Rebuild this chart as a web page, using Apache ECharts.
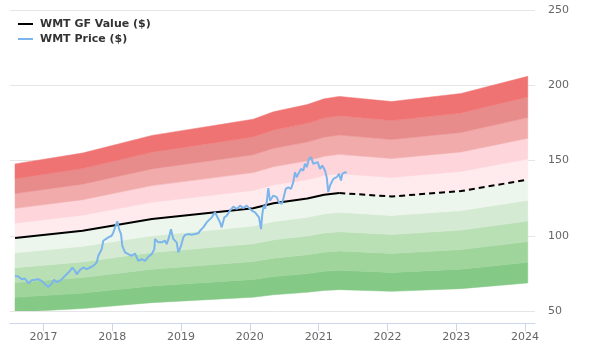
<!DOCTYPE html>
<html><head><meta charset="utf-8">
<script src="https://cdn.jsdelivr.net/npm/echarts@6/dist/echarts.min.js"></script>
<style>html,body{margin:0;padding:0;background:#fff}#c{width:600px;height:360px}</style>
</head><body><div id="c"></div>
<script>
// GF Value (decimal year, $)
const gfYears  = [2016.586, 2017.568, 2018.576, 2020.048, 2020.344, 2020.835, 2021.08, 2021.30, 2022.06, 2023.07, 2024.04];
const gfValues = [98.5, 103.3, 111.1, 118.3, 121.6, 124.8, 127.3, 128.4, 126.1, 129.7, 137.3];
const gfHistoricalCount = 8; // points up to the last price date are drawn solid

// WMT price (decimal year, $)
const priceYears = [2016.586,2016.634,2016.683,2016.731,2016.779,2016.828,2016.876,2016.924,2016.974,2017.022,
  2017.070,2017.119,2017.153,2017.192,2017.240,2017.288,2017.337,2017.385,2017.419,2017.458,
  2017.483,2017.531,2017.579,2017.628,2017.676,2017.724,2017.749,2017.773,2017.797,2017.807,
  2017.846,2017.869,2017.894,2017.942,2017.991,2018.015,2018.050,2018.073,2018.098,2018.127,
  2018.146,2018.185,2018.233,2018.282,2018.330,2018.378,2018.428,2018.476,2018.523,2018.573,
  2018.611,2018.621,2018.669,2018.718,2018.766,2018.791,2018.824,2018.853,2018.887,2018.912,
  2018.936,2018.960,2018.999,2019.032,2019.057,2019.105,2019.154,2019.202,2019.250,2019.275,
  2019.323,2019.348,2019.372,2019.396,2019.445,2019.493,2019.518,2019.541,2019.566,2019.591,
  2019.628,2019.663,2019.711,2019.759,2019.809,2019.857,2019.904,2019.954,2019.977,2020.027,
  2020.075,2020.099,2020.133,2020.162,2020.181,2020.201,2020.220,2020.245,2020.268,2020.293,
  2020.307,2020.341,2020.390,2020.423,2020.463,2020.486,2020.521,2020.559,2020.598,2020.631,
  2020.656,2020.681,2020.704,2020.743,2020.777,2020.801,2020.826,2020.859,2020.889,2020.922,
  2020.947,2020.986,2021.019,2021.053,2021.092,2021.117,2021.140,2021.165,2021.190,2021.213,
  2021.262,2021.296,2021.325,2021.344,2021.383,2021.408];
const prices = [73.3,72.9,71.1,71.6,68.4,70.4,70.7,71.1,70.0,67.8,
  66.0,68.2,70.7,69.3,70.0,72.2,74.4,76.7,78.9,76.7,
  74.4,77.3,78.9,77.8,78.9,80.0,78.9,82.2,86.7,87.8,
  91.1,96.7,97.8,98.9,100.0,102.2,106.7,109.6,104.4,101.1,
  93.3,88.9,87.8,86.7,88.2,83.3,84.4,83.3,86.0,87.8,
  91.1,97.8,95.6,95.6,96.7,94.4,98.9,104.4,97.8,98.9,
  95.6,88.9,93.3,98.9,100.5,101.1,100.7,101.1,101.6,103.3,
  105.6,104.4,108.9,109.6,112.2,115.6,113.3,112.2,108.9,105.6,
  112.2,113.3,116.7,119.3,117.8,120.0,118.4,120.0,120.7,116.7,
  115.6,116.7,112.2,104.4,114.4,120.0,118.0,122.2,131.6,123.3,
  124.4,126.7,125.6,122.2,121.1,124.4,131.1,132.2,131.1,135.6,
  142.2,138.9,141.1,144.4,143.3,147.8,145.6,151.1,152.2,147.8,
  146.7,148.9,144.4,146.7,143.3,138.9,129.0,133.3,134.4,137.8,
  138.9,141.1,136.7,141.1,142.2,141.8];

const yearTicks = [2017, 2018, 2019, 2020, 2021, 2022, 2023, 2024];
const bandBase = 0.5;
const bandStep = 0.1;
const bandColors = ['#85c986', '#9fd49b', '#b9dfb5', '#d5ead3', '#edf6ec',
                    '#ffebee', '#fdd5da', '#f1abab', '#e88b8b', '#f07373'];

const FONT = 'DejaVu Sans';
const series = [];
series.push({
  type: 'custom', silent: true, clip: true, z: 1,
  data: bandColors.map(() => [gfYears[0], gfValues[0]]),
  renderItem: (params, api) => {
    const k = params.dataIndex;
    const lo = bandBase + k * bandStep, hi = lo + bandStep;
    const top = gfYears.map((y, i) => api.coord([y, gfValues[i] * hi]));
    const bot = gfYears.map((y, i) => api.coord([y, gfValues[i] * lo])).reverse();
    return {
      type: 'polygon', silent: true,
      shape: { points: top.concat(bot) },
      style: { fill: bandColors[k], stroke: bandColors[k], lineWidth: 0.5 }
    };
  }
});
series.push({
  name: 'WMT GF Value ($)', type: 'line', symbol: 'none', color: '#000',
  lineStyle: { width: 2, color: '#000' },
  data: gfYears.slice(0, gfHistoricalCount).map((y, i) => [y, gfValues[i]]),
  z: 3
});
series.push({
  name: 'WMT GF Value ($)', type: 'line', symbol: 'none', color: '#000',
  lineStyle: { width: 2, color: '#000', type: [6, 4] },
  data: gfYears.slice(gfHistoricalCount - 1).map((y, i) => [y, gfValues[i + gfHistoricalCount - 1]]),
  z: 3
});
series.push({
  name: 'WMT Price ($)', type: 'line', symbol: 'none', color: '#7cb5ec',
  lineStyle: { width: 2, color: '#7cb5ec' },
  data: priceYears.map((y, i) => [y, prices[i]]),
  z: 4
});

const chart = echarts.init(document.getElementById('c'), null, { renderer: 'canvas' });
chart.setOption({
  animation: false,
  textStyle: { fontFamily: FONT },
  grid: { left: 10, right: 65, top: 10, bottom: 49, containLabel: false },
  legend: {
    orient: 'vertical', left: 18, top: 17, padding: 0, icon: 'rect', itemWidth: 15, itemHeight: 2,
    itemGap: 1,
    data: ['WMT GF Value ($)', 'WMT Price ($)'],
    textStyle: { fontFamily: FONT, fontSize: 11, fontWeight: 'bold', color: '#333', lineHeight: 14, padding: [0, 0, 0, 2] }
  },
  xAxis: {
    type: 'value', min: 2016.513, max: 2024.145, offset: 12,
    axisLine: { show: true, lineStyle: { color: '#ccd6eb', width: 1 } },
    axisTick: { show: true, customValues: yearTicks, length: 8, lineStyle: { color: '#ccd6eb' } },
    axisLabel: { customValues: yearTicks, color: '#666', fontSize: 11, fontFamily: FONT, margin: 9,
                 formatter: v => String(Math.round(v)) },
    splitLine: { show: false }
  },
  yAxis: {
    type: 'value', position: 'right', min: 50, max: 250, interval: 50,
    axisLine: { show: false }, axisTick: { show: false },
    axisLabel: { color: '#666', fontSize: 11, fontFamily: FONT, margin: 13 },
    splitLine: { lineStyle: { color: '#e6e6e6', width: 1 } }
  },
  series: series
});
</script>
</body></html>
